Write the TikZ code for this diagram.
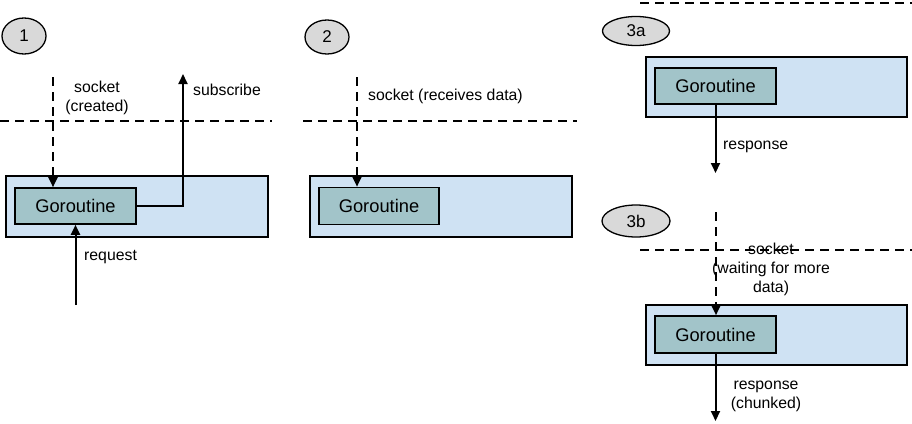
\documentclass[tikz,border=0pt]{standalone}
\usepackage{fontspec}
\setmainfont{Liberation Sans}
\usetikzlibrary{arrows.meta,shapes.geometric}
\definecolor{outerfill}{HTML}{CFE2F3}
\definecolor{innerfill}{HTML}{A2C4C9}
\definecolor{ellfill}{HTML}{D9D9D9}
\tikzset{
  outerbox/.style={draw=black, line width=1.6pt, fill=outerfill},
  gorbox/.style={draw=black, line width=1.6pt, fill=innerfill, inner sep=0pt,
    font=\fontsize{18.3}{20}\selectfont},
  stepell/.style={ellipse, draw=black, line width=1.3pt, fill=ellfill, inner sep=0pt,
    font=\fontsize{17}{19}\selectfont},
  lbl/.style={inner sep=0pt, font=\fontsize{15.8}{19}\selectfont, align=center},
  sep/.style={line width=2pt, dash pattern=on 9pt off 6pt},
  arr/.style={line width=2pt, -{Triangle[length=10pt,width=9pt]}},
  darr/.style={arr, dash pattern=on 9pt off 6pt},
}
\begin{document}
\begin{tikzpicture}[x=1pt,y=-1pt]
\useasboundingbox (0,0) rectangle (912,423);
% ---------- panel 1 ----------
\node[stepell, minimum width=44pt, minimum height=36pt] (e1) at (24,36) {1};
\draw[sep] (0,121) -- (272,121);
\node[outerbox, inner sep=0pt, minimum width=262pt, minimum height=61pt] (o1) at (137,206.5) {};
\node[gorbox, minimum width=121pt, minimum height=36pt] (g1) at (75.5,206) {Goroutine};
\coordinate (s1) at (53,77);
\draw[darr] (s1) -- (s1 |- g1.north);
\node[lbl] (ls1) at (97,97.5) {socket\\(created)};
\coordinate (sub) at (183,74);
\draw[arr] (g1.east) -- (g1.east -| sub) -- (sub);
\node[lbl, anchor=west] (lsub) at (193,90) {subscribe};
\coordinate (req) at (g1.south |- 0,305);
\draw[arr] (req) -- (g1.south);
\node[lbl, anchor=west] (lreq) at (84,257) {request};
% ---------- panel 2 ----------
\node[stepell, minimum width=44pt, minimum height=34pt] (e2) at (327,37) {2};
\draw[sep] (303,121) -- (577,121);
\node[outerbox, inner sep=0pt, minimum width=262pt, minimum height=61pt] (o2) at (441,206.5) {};
\node[gorbox, minimum width=120pt, minimum height=37pt] (g2) at (379,206) {Goroutine};
\coordinate (s2) at (357,77);
\draw[darr] (s2) -- (s2 |- g2.north);
\node[lbl, anchor=west] (ls2) at (368,96) {socket (receives data)};
% ---------- panel 3a ----------
\draw[sep] (640,3) -- (912,3);
\node[stepell, minimum width=67pt, minimum height=29pt] (e3a) at (636,31) {3a};
\node[outerbox, inner sep=0pt, minimum width=261pt, minimum height=60pt] (o3a) at (776.5,87) {};
\node[gorbox, minimum width=121pt, minimum height=36pt] (g3a) at (715.5,86) {Goroutine};
\coordinate (r3a) at (g3a.south |- 0,173);
\draw[arr] (g3a.south) -- (r3a);
\node[lbl, anchor=west] (lr3a) at (723,147) {response};
% ---------- panel 3b ----------
\node[stepell, minimum width=68pt, minimum height=32pt] (e3b) at (636,221) {3b};
\draw[sep] (640,250) -- (912,250);
\node[outerbox, inner sep=0pt, minimum width=261pt, minimum height=60pt] (o3b) at (776.5,335) {};
\node[gorbox, minimum width=121pt, minimum height=37pt] (g3b) at (715.5,334.5) {Goroutine};
\coordinate (s3b) at (716,212);
\draw[darr] (s3b) -- (s3b |- g3b.north);
\node[lbl] (ls3b) at (771,269.5) {socket\\(waiting for more\\data)};
\coordinate (r3b) at (g3b.south |- 0,421);
\draw[arr] (g3b.south) -- (r3b);
\node[lbl] (lr3b) at (766,396) {response\\(chunked)};
\end{tikzpicture}
\end{document}
